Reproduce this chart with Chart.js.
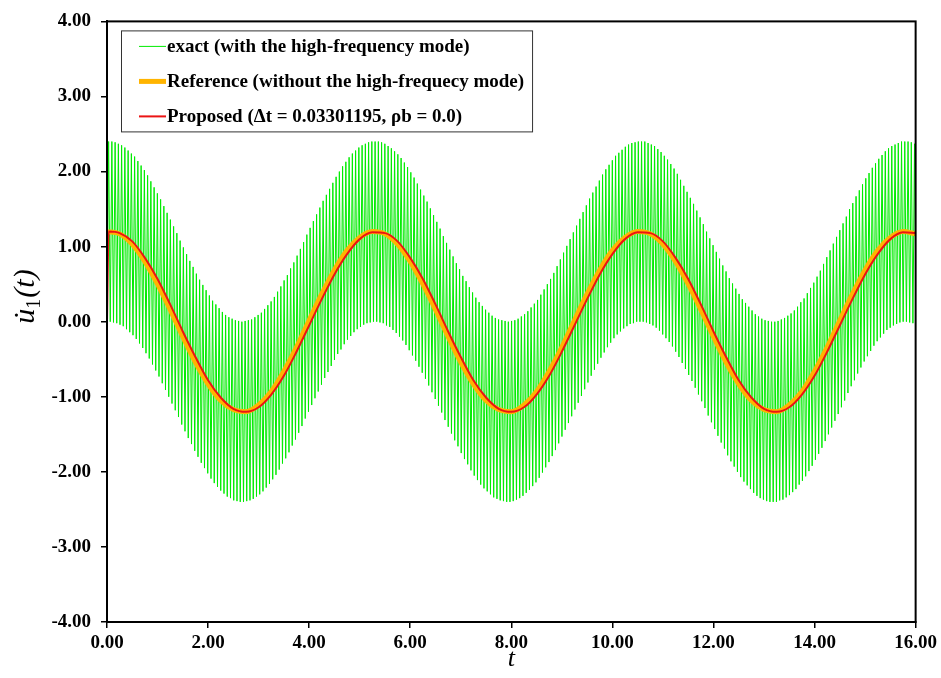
<!DOCTYPE html>
<html><head><meta charset="utf-8">
<script src="https://cdn.jsdelivr.net/npm/chart.js@4.4.1/dist/chart.umd.min.js"></script>
<style>html,body{margin:0;padding:0;background:#fff}</style>
</head><body>
<canvas id="c" width="941" height="678"></canvas>
<script>
// ---- data ----
const exactStep = 0.03215; // spacing of the plotted extremes of the exact response
const exactValues = [
0.00,2.40,0.00,2.40,-0.01,2.39,-0.02,2.37,-0.04,2.35,-0.06,2.32,-0.10,2.28,-0.14,2.24,-0.18,2.20,-0.23,2.14,
-0.29,2.08,-0.35,2.02,-0.42,1.95,-0.49,1.87,-0.57,1.79,-0.65,1.71,-0.73,1.63,-0.82,1.54,-0.91,1.45,-1.00,1.36,
-1.09,1.27,-1.18,1.18,-1.27,1.08,-1.37,0.99,-1.46,0.90,-1.55,0.81,-1.63,0.73,-1.72,0.64,-1.80,0.56,-1.88,0.49,
-1.95,0.42,-2.02,0.35,-2.09,0.28,-2.15,0.23,-2.20,0.18,-2.25,0.13,-2.29,0.09,-2.33,0.06,-2.35,0.04,-2.38,0.02,
-2.39,0.01,-2.40,0.00,-2.40,0.01,-2.39,0.02,-2.38,0.03,-2.36,0.06,-2.33,0.09,-2.30,0.12,-2.26,0.17,-2.21,0.22,
-2.16,0.27,-2.10,0.33,-2.04,0.40,-1.97,0.47,-1.89,0.55,-1.82,0.62,-1.74,0.71,-1.65,0.79,-1.57,0.88,-1.48,0.97,
-1.39,1.06,-1.29,1.16,-1.20,1.25,-1.11,1.34,-1.02,1.43,-0.93,1.52,-0.84,1.61,-0.75,1.69,-0.67,1.77,-0.59,1.85,
-0.51,1.93,-0.43,2.00,-0.37,2.07,-0.30,2.13,-0.24,2.19,-0.19,2.24,-0.14,2.28,-0.10,2.32,-0.07,2.35,-0.04,2.37,
-0.02,2.39,-0.01,2.40,0.00,2.40,0.00,2.40,-0.01,2.39,-0.02,2.37,-0.05,2.34,-0.07,2.31,-0.11,2.27,-0.15,2.23,
-0.20,2.18,-0.25,2.12,-0.31,2.06,-0.38,1.99,-0.45,1.92,-0.52,1.84,-0.60,1.76,-0.68,1.68,-0.76,1.60,-0.85,1.51,
-0.94,1.42,-1.03,1.33,-1.12,1.24,-1.21,1.14,-1.31,1.05,-1.40,0.96,-1.49,0.87,-1.58,0.78,-1.66,0.70,-1.75,0.61,
-1.83,0.54,-1.90,0.46,-1.98,0.39,-2.05,0.32,-2.11,0.26,-2.17,0.21,-2.22,0.16,-2.26,0.12,-2.30,0.08,-2.34,0.05,
-2.36,0.03,-2.38,0.02,-2.39,0.01,-2.40,0.00,-2.40,0.01,-2.39,0.02,-2.37,0.04,-2.35,0.07,-2.32,0.10,-2.28,0.14,
-2.24,0.19,-2.19,0.24,-2.14,0.29,-2.08,0.36,-2.01,0.43,-1.94,0.50,-1.87,0.57,-1.79,0.65,-1.71,0.74,-1.62,0.83,
-1.53,0.92,-1.44,1.01,-1.35,1.10,-1.26,1.19,-1.17,1.28,-1.08,1.37,-0.99,1.46,-0.90,1.55,-0.81,1.64,-0.72,1.72,
-0.64,1.80,-0.56,1.88,-0.48,1.96,-0.41,2.03,-0.34,2.09,-0.28,2.15,-0.22,2.21,-0.17,2.25,-0.13,2.29,-0.09,2.33,
-0.06,2.36,-0.03,2.38,-0.02,2.39,0.00,2.40,0.00,2.40,0.00,2.40,-0.01,2.38,-0.03,2.36,-0.05,2.34,-0.08,2.30,
-0.12,2.26,-0.17,2.21,-0.22,2.16,-0.27,2.10,-0.33,2.04,-0.40,1.97,-0.47,1.89,-0.55,1.81,-0.63,1.73,-0.71,1.65,
-0.79,1.57,-0.88,1.48,-0.97,1.39,-1.06,1.30,-1.15,1.20,-1.25,1.11,-1.34,1.02,-1.43,0.93,-1.52,0.84,-1.61,0.75,
-1.69,0.67,-1.78,0.58,-1.86,0.51,-1.93,0.44,-2.00,0.37,-2.07,0.30,-2.13,0.25,-2.18,0.20,-2.23,0.15,-2.28,0.10,
-2.32,0.07,-2.35,0.04,-2.37,0.02,-2.39,0.01,-2.40,0.00,-2.40,0.00,-2.40,0.01,-2.38,0.03,-2.37,0.05,-2.34,0.08,
-2.31,0.11,-2.27,0.15,-2.23,0.20,-2.17,0.26,-2.12,0.31,-2.06,0.38,-1.99,0.45,-1.92,0.52,-1.84,0.60,-1.76,0.68,
-1.68,0.77,-1.59,0.86,-1.50,0.95,-1.41,1.04,-1.32,1.13,-1.23,1.22,-1.14,1.31,-1.05,1.40,-0.95,1.50,-0.86,1.58,
-0.78,1.67,-0.69,1.75,-0.61,1.83,-0.53,1.91,-0.46,1.98,-0.39,2.05,-0.32,2.11,-0.26,2.17,-0.21,2.22,-0.16,2.27,
-0.11,2.31,-0.08,2.34,-0.05,2.36,-0.03,2.38,-0.01,2.40,0.00,2.40,0.00,2.40,-0.01,2.39,-0.02,2.37,
-0.04
];
const smoothStep = 0.25; // sampling of the reference and proposed curves
const referenceValues = [
1.20,1.17,1.03,0.80,0.50,0.16,-0.20,-0.54,-0.83,-1.05,-1.17,-1.20,-1.11,-0.93,-0.66,-0.34,0.02,0.37,0.69,0.95,1.12,
1.20,1.17,1.03,0.80,0.50,0.16,-0.20,-0.54,-0.83,-1.05,-1.17,-1.20,-1.11,-0.93,-0.66,-0.34,0.02,0.37,0.69,0.95,1.12,
1.20,1.17,1.03,0.80,0.50,0.16,-0.20,-0.54,-0.83,-1.05,-1.17,-1.20,-1.11,-0.93,-0.66,-0.34,0.02,0.37,0.69,0.95,1.12,
1.20,1.17
];
const proposedStartT = [0, 0.033];
const proposedStartV = [0.00, 1.20];
const proposedValues = [ // t = 0.25, 0.50, ... 16.00
1.18,1.07,0.85,0.57,0.23,-0.13,-0.47,-0.78,-1.01,-1.16,-1.20,-1.14,-0.97,-0.72,-0.40,-0.05,0.30,0.63,0.90,1.10,1.19,
1.18,1.07,0.85,0.57,0.23,-0.13,-0.47,-0.78,-1.01,-1.16,-1.20,-1.14,-0.97,-0.72,-0.40,-0.05,0.30,0.63,0.90,1.10,1.19,
1.18,1.07,0.85,0.57,0.23,-0.13,-0.47,-0.78,-1.01,-1.16,-1.20,-1.14,-0.97,-0.72,-0.40,-0.05,0.30,0.63,0.90,1.10,1.19,
1.18
];
const xTickValues = [0,2,4,6,8,10,12,14,16];
const yTickValues = [-4,-3,-2,-1,0,1,2,3,4];
const legendLabels = [
  'exact (with the high-frequency mode)',
  'Reference (without the high-frequecy mode)',
  'Proposed (\u0394t = 0.03301195, \u03C1b = 0.0)'
];
const xTitle = 't';

// ---- build datasets ----
const exactData = exactValues.map((v,i)=>({x:i*exactStep, y:v}));
const referenceData = referenceValues.map((v,i)=>({x:i*smoothStep, y:v}));
const proposedData = proposedStartT.map((t,i)=>({x:t, y:proposedStartV[i]}))
  .concat(proposedValues.map((v,i)=>({x:(i+1)*smoothStep, y:v})));

const COLORS = {exact:'rgb(0,235,0)', ref:'rgb(255,180,0)', prop:'rgb(235,20,20)'};
const SERIF = '"Liberation Serif", "Times New Roman", serif';

const decor = {
  id:'decor',
  afterDatasetsDraw(chart){
    const {ctx, chartArea:a} = chart;
    ctx.save();
    ctx.strokeStyle = '#000'; ctx.lineWidth = 2;
    ctx.strokeRect(a.left, a.top, a.right-a.left, a.bottom-a.top);
    ctx.restore();
  },
  afterDraw(chart){
    const {ctx, chartArea:a} = chart;
    ctx.save();
    // legend
    ctx.font = 'bold 19px ' + SERIF;
    const bx = a.left + 14, by = a.top + 9;
    const tx = bx + 46;
    let maxW = 0;
    legendLabels.forEach(l=>{ maxW = Math.max(maxW, ctx.measureText(l).width); });
    const bw = tx - bx + maxW + 8, bh = 101;
    ctx.fillStyle = '#fff';
    ctx.fillRect(bx, by, bw, bh);
    ctx.strokeStyle = '#333'; ctx.lineWidth = 1;
    ctx.strokeRect(bx+0.5, by+0.5, bw, bh);
    const rows = [by+16, by+51, by+86];
    const styles = [[COLORS.exact,1],[COLORS.ref,5],[COLORS.prop,2]];
    rows.forEach((ry,k)=>{
      ctx.strokeStyle = styles[k][0]; ctx.lineWidth = styles[k][1];
      ctx.beginPath(); ctx.moveTo(bx+18, ry); ctx.lineTo(tx-1, ry); ctx.stroke();
      ctx.fillStyle = '#000'; ctx.textBaseline = 'middle'; ctx.textAlign = 'left';
      ctx.fillText(legendLabels[k], tx, ry+1);
    });
    // x title
    ctx.font = 'italic 26px ' + SERIF;
    ctx.textAlign = 'center'; ctx.textBaseline = 'middle';
    ctx.fillText(xTitle, (a.left+a.right)/2, 659);
    // y title: u-dot subscript 1 (t)
    ctx.translate(25, 297);
    ctx.rotate(-Math.PI/2);
    ctx.textAlign = 'left'; ctx.textBaseline = 'alphabetic';
    const f1 = 'italic 30px ' + SERIF, f2 = '20px ' + SERIF;
    ctx.font = f1; const wU = ctx.measureText('u').width;
    ctx.font = f2; const w1 = ctx.measureText('1').width;
    ctx.font = f1; const wT = ctx.measureText('(t)').width;
    let x0 = -(wU + w1 + wT)/2;
    const base = 9;
    ctx.font = f1; ctx.fillText('u\u0307', x0, base);
    x0 += wU;
    ctx.font = f2; ctx.fillText('1', x0, base+6);
    x0 += w1 + 1;
    ctx.font = f1; ctx.fillText('(t)', x0, base);
    ctx.restore();
  }
};

const tickFont = {family: SERIF, size: 19, weight: 'bold'};
new Chart(document.getElementById('c'), {
  type: 'line',
  data: { datasets: [
    {label: legendLabels[2], data: proposedData, borderColor: COLORS.prop, borderWidth: 2, pointRadius: 0, cubicInterpolationMode: 'monotone', fill: false},
    {label: legendLabels[1], data: referenceData, borderColor: COLORS.ref, borderWidth: 5, pointRadius: 0, cubicInterpolationMode: 'monotone', fill: false},
    {label: legendLabels[0], data: exactData, borderColor: COLORS.exact, borderWidth: 1, pointRadius: 0, tension: 0, fill: false}
  ]},
  options: {
    responsive: false, animation: false, devicePixelRatio: 1,
    layout: {padding: {left: 0, right: 23, top: 18, bottom: 0}},
    plugins: {legend: {display: false}, tooltip: {enabled: false}},
    scales: {
      x: {
        type: 'linear', min: 0, max: 16,
        afterBuildTicks: s => { s.ticks = xTickValues.map(v=>({value:v})); },
        afterFit: s => { s.height = 56; },
        ticks: {font: tickFont, color: '#000', padding: 4, maxRotation: 0, callback: v => Number(v).toFixed(2)},
        grid: {drawOnChartArea: false, drawTicks: true, tickLength: 6, color: '#000', lineWidth: 1.5},
        border: {display: true, color: '#000', width: 2}
      },
      y: {
        type: 'linear', min: -4, max: 4,
        afterBuildTicks: s => { s.ticks = yTickValues.map(v=>({value:v})); },
        afterFit: s => { s.width = 107; },
        ticks: {font: tickFont, color: '#000', padding: 10, callback: v => Number(v).toFixed(2)},
        grid: {drawOnChartArea: false, drawTicks: true, tickLength: 6, color: '#000', lineWidth: 1.5},
        border: {display: true, color: '#000', width: 2}
      }
    }
  },
  plugins: [decor]
});
</script>
</body></html>
